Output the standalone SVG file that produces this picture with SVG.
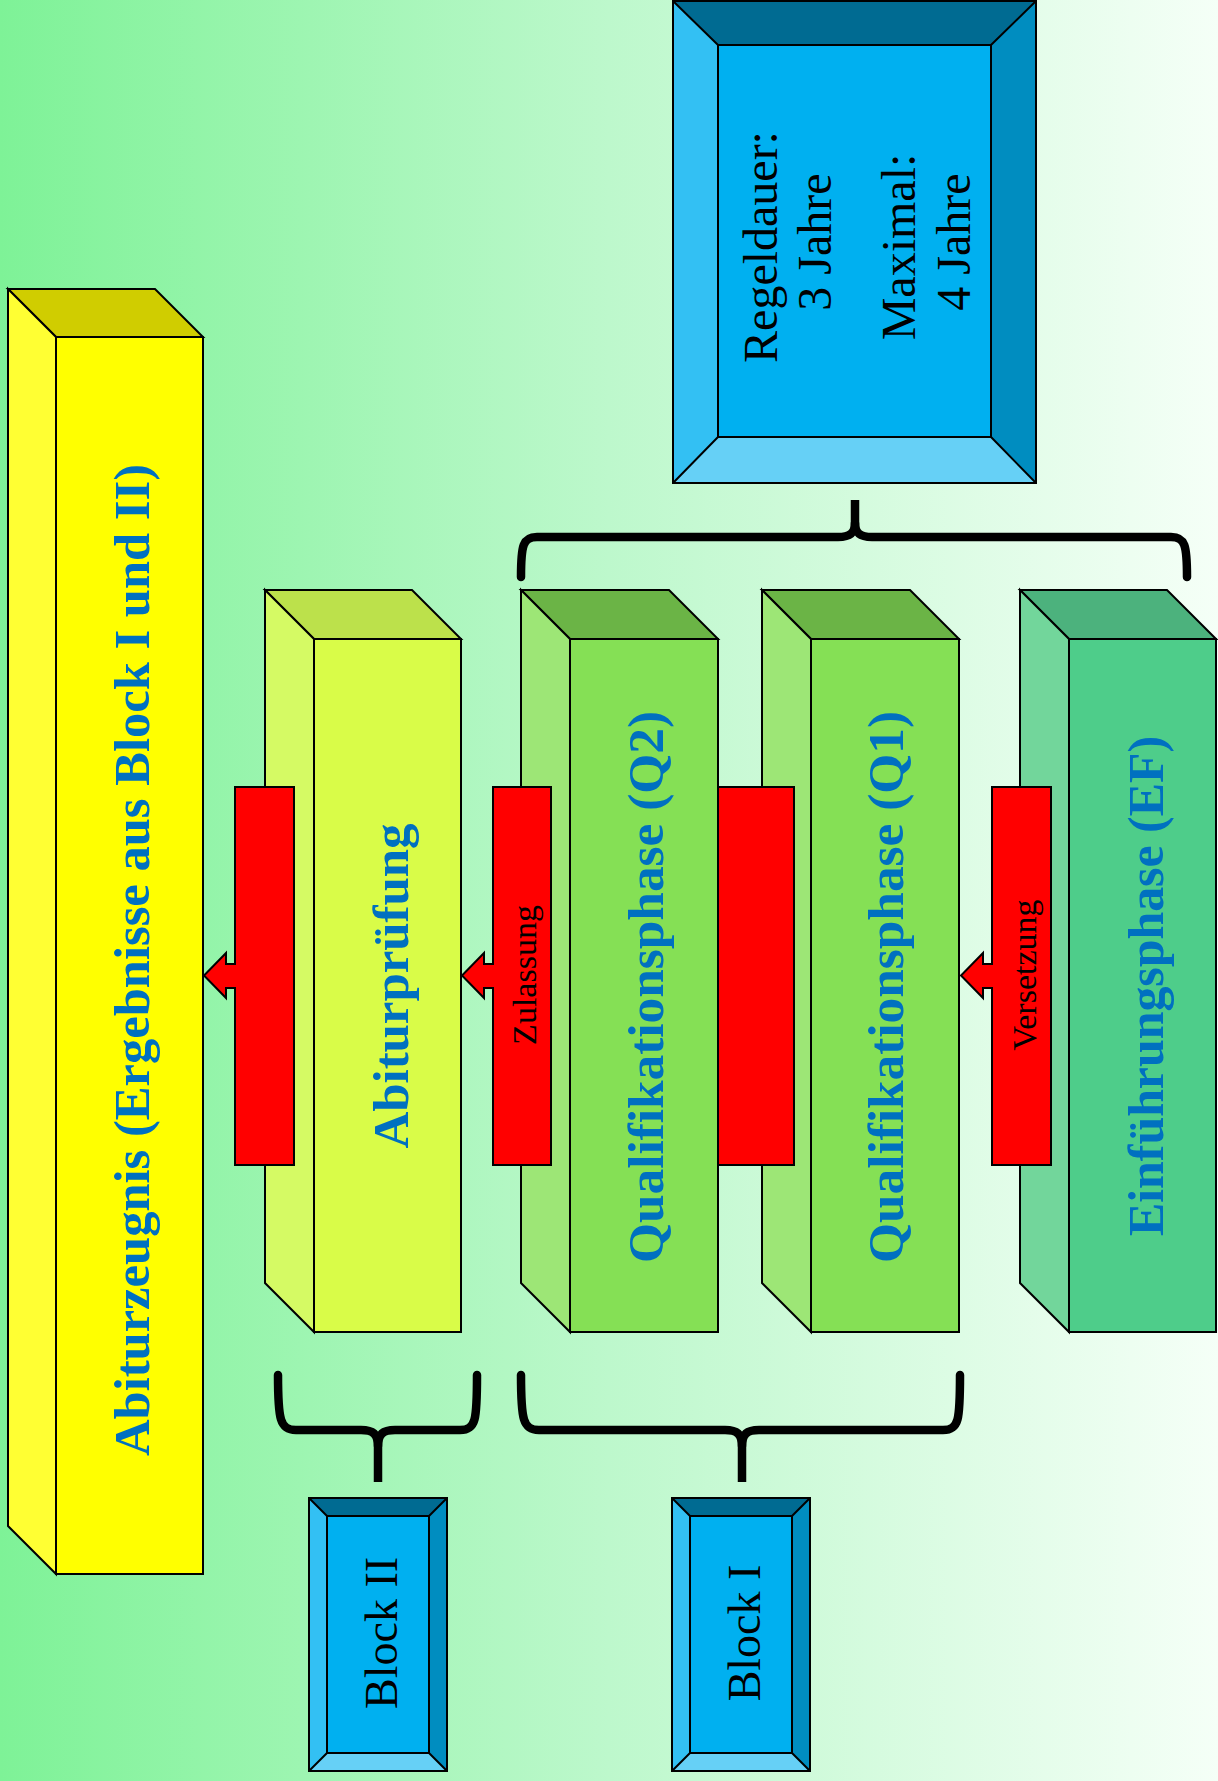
<svg xmlns="http://www.w3.org/2000/svg" width="1218" height="1781" viewBox="0 0 1218 1781">
<defs>
<linearGradient id="bg" x1="0" y1="0" x2="1" y2="0">
<stop offset="0" stop-color="#7EF297"/>
<stop offset="0.5" stop-color="#BDF8CC"/>
<stop offset="1" stop-color="#F5FFF7"/>
</linearGradient>
</defs>
<style>
.ln{stroke:#000;stroke-width:2;stroke-linejoin:miter}
.blue{font-family:"Liberation Serif","Times New Roman",serif;font-weight:bold;font-size:50px;fill:#0070C0}
.blk{font-family:"Liberation Serif","Times New Roman",serif;fill:#000}
.red{fill:#FF0000;stroke:#000;stroke-width:2}
.br{fill:none;stroke:#000;stroke-width:8.5;stroke-linecap:round;stroke-linejoin:round}
.bvc{fill:#00B0F0}.bvt{fill:#006B92}.bvl{fill:#33C0F3}.bvr{fill:#008DC0}.bvb{fill:#66D0F6}
</style>
<rect x="0" y="0" width="1218" height="1781" fill="url(#bg)"/>

<g id="abiturzeugnis">
<polygon class="ln" fill="#D0CD00" points="8,289 155,289 203,337 56,337"/>
<polygon class="ln" fill="#FFFF33" points="8,289 56,337 56,1574 8,1526"/>
<rect class="ln" fill="#FFFF00" x="56" y="337" width="147" height="1237"/>
<text class="blue" text-anchor="middle" textLength="992" lengthAdjust="spacingAndGlyphs" transform="translate(149,960) rotate(-90)">Abiturzeugnis (Ergebnisse aus Block I und II)</text>
</g>

<g id="abiturpruefung">
<polygon class="ln" fill="#BCE14B" points="265,590 412,590 461,639 314,639"/>
<polygon class="ln" fill="#D5FA64" points="265,590 314,639 314,1332 265,1283"/>
<rect class="ln" fill="#D9FC48" x="314" y="639" width="147" height="693"/>
<text class="blue" text-anchor="middle" textLength="325" lengthAdjust="spacingAndGlyphs" transform="translate(408,986) rotate(-90)">Abiturprüfung</text>
</g>

<g id="q2">
<polygon class="ln" fill="#6BB446" points="521,590 669,590 718,639 570,639"/>
<polygon class="ln" fill="#9DE676" points="521,590 570,639 570,1332 521,1283"/>
<rect class="ln" fill="#85E055" x="570" y="639" width="148" height="693"/>
<text class="blue" text-anchor="middle" textLength="552" lengthAdjust="spacingAndGlyphs" transform="translate(663,987) rotate(-90)">Qualifikationsphase (Q2)</text>
</g>

<g id="q1">
<polygon class="ln" fill="#6BB446" points="762,590 910,590 959,639 811,639"/>
<polygon class="ln" fill="#9DE676" points="762,590 811,639 811,1332 762,1283"/>
<rect class="ln" fill="#85E055" x="811" y="639" width="148" height="693"/>
<text class="blue" text-anchor="middle" textLength="552" lengthAdjust="spacingAndGlyphs" transform="translate(903,987) rotate(-90)">Qualifikationsphase (Q1)</text>
</g>

<g id="ef">
<polygon class="ln" fill="#4CB27D" points="1020,590 1167,590 1216,639 1069,639"/>
<polygon class="ln" fill="#72D69B" points="1020,590 1069,639 1069,1332 1020,1283"/>
<rect class="ln" fill="#4ECD8A" x="1069" y="639" width="147" height="693"/>
<text class="blue" text-anchor="middle" textLength="500" lengthAdjust="spacingAndGlyphs" transform="translate(1163,986) rotate(-90)">Einführungsphase (EF)</text>
</g>

<g id="arrow-abiturzeugnis">
<path class="red" d="M294,787 L294,1165 L235,1165 L235,988 L226,988 L226,998 L204,975.5 L226,953 L226,964 L235,964 L235,787 Z"/>
</g>

<g id="arrow-zulassung">
<path class="red" d="M551,787 L551,1165 L493,1165 L493,988 L484,988 L484,998 L462,975.5 L484,953 L484,964 L493,964 L493,787 Z"/>
<text class="blk" font-size="34" text-anchor="middle" transform="translate(536,975) rotate(-90)">Zulassung</text>
</g>

<g id="bar-q1-q2">
<rect class="red" x="718" y="787" width="76" height="378"/>
</g>

<g id="arrow-versetzung">
<path class="red" d="M1051,787 L1051,1165 L992,1165 L992,988 L983,988 L983,998 L961,975.5 L983,953 L983,964 L992,964 L992,787 Z"/>
<text class="blk" font-size="34" text-anchor="middle" transform="translate(1036,975) rotate(-90)">Versetzung</text>
</g>

<g id="regeldauer">
<rect class="bvc" x="673" y="1" width="363" height="482"/>
<polygon class="bvt" points="673,1 1036,1 991,45 718,45"/>
<polygon class="bvl" points="673,1 718,45 718,437 673,483"/>
<polygon class="bvr" points="1036,1 991,45 991,437 1036,483"/>
<polygon class="bvb" points="673,483 718,437 991,437 1036,483"/>
<g fill="none" stroke="#000" stroke-width="2">
<rect x="673" y="1" width="363" height="482"/>
<rect x="718" y="45" width="273" height="392"/>
<path d="M673,1 L718,45 M1036,1 L991,45 M673,483 L718,437 M1036,483 L991,437"/>
</g>
<g class="blk" font-size="48" text-anchor="middle">
<text transform="translate(777,247) rotate(-90)">Regeldauer:</text>
<text transform="translate(831,242) rotate(-90)">3 Jahre</text>
<text transform="translate(915,247) rotate(-90)">Maximal:</text>
<text transform="translate(970,242) rotate(-90)">4 Jahre</text>
</g>
</g>

<g id="block2">
<rect class="bvc" x="309" y="1498" width="138" height="273"/>
<polygon class="bvt" points="309,1498 447,1498 429,1516 327,1516"/>
<polygon class="bvl" points="309,1498 327,1516 327,1753 309,1771"/>
<polygon class="bvr" points="447,1498 429,1516 429,1753 447,1771"/>
<polygon class="bvb" points="309,1771 327,1753 429,1753 447,1771"/>
<g fill="none" stroke="#000" stroke-width="2">
<rect x="309" y="1498" width="138" height="273"/>
<rect x="327" y="1516" width="102" height="237"/>
<path d="M309,1498 L327,1516 M447,1498 L429,1516 M309,1771 L327,1753 M447,1771 L429,1753"/>
</g>
<text class="blk" font-size="46" text-anchor="middle" transform="translate(397,1633) rotate(-90)">Block II</text>
</g>

<g id="block1">
<rect class="bvc" x="672" y="1498" width="138" height="273"/>
<polygon class="bvt" points="672,1498 810,1498 792,1516 690,1516"/>
<polygon class="bvl" points="672,1498 690,1516 690,1753 672,1771"/>
<polygon class="bvr" points="810,1498 792,1516 792,1753 810,1771"/>
<polygon class="bvb" points="672,1771 690,1753 792,1753 810,1771"/>
<g fill="none" stroke="#000" stroke-width="2">
<rect x="672" y="1498" width="138" height="273"/>
<rect x="690" y="1516" width="102" height="237"/>
<path d="M672,1498 L690,1516 M810,1498 L792,1516 M672,1771 L690,1753 M810,1771 L792,1753"/>
</g>
<text class="blk" font-size="46" text-anchor="middle" transform="translate(760,1633) rotate(-90)">Block I</text>
</g>

<g id="connectors">
<path class="br" d="M521,577 C521,545 523,537 537,537 L838,537 C850,537 855,533 855,523 M855,523 C855,533 860,537 872,537 L1171,537 C1185,537 1187,545 1187,577"/>
<path class="br" style="stroke-linecap:butt" d="M855,530 L855,500"/>
<path class="br" d="M278,1375 C278,1420 280,1430 296,1430 L361,1430 C373,1430 378,1434 378,1446 M378,1446 C378,1434 383,1430 395,1430 L460,1430 C476,1430 477,1420 477,1375"/>
<path class="br" style="stroke-linecap:butt" d="M378,1440 L378,1482"/>
<path class="br" d="M521,1375 C521,1420 523,1430 539,1430 L725,1430 C737,1430 742,1434 742,1446 M742,1446 C742,1434 747,1430 759,1430 L943,1430 C959,1430 960,1420 960,1375"/>
<path class="br" style="stroke-linecap:butt" d="M742,1440 L742,1482"/>
</g>
</svg>
